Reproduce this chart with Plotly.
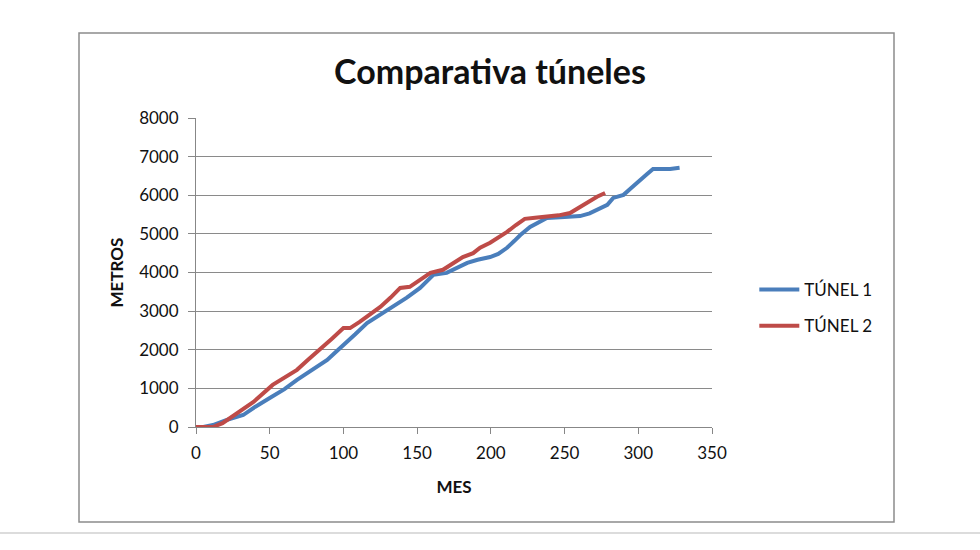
import plotly.graph_objects as go

# Túnel 1 (month, meters)
t1_mes = [0, 5, 11.5, 20, 32, 40, 50, 60, 68.5, 78, 89, 95, 102, 108, 116, 125, 134, 143, 152, 161, 170, 177, 184, 191,
          199.5, 205, 211, 216, 220, 226.6, 232, 238, 250, 260.5, 267, 272, 279, 283, 290, 295, 301, 306, 310, 316, 321.6, 328]
t1_m = [0, 0, 50, 170, 310, 520, 750, 980, 1220, 1450, 1735, 1950, 2175, 2400, 2690, 2900, 3110, 3350, 3600, 3940, 3990, 4120, 4250, 4330,
        4400, 4480, 4640, 4820, 4970, 5180, 5300, 5410, 5440, 5460, 5530, 5620, 5750, 5930, 6010, 6180, 6400, 6550, 6680, 6680, 6680, 6710]

# Túnel 2 (month, meters)
t2_mes = [0, 5, 11.5, 18, 28.5, 39, 52, 60, 68.5, 76, 84, 92, 100, 104.5, 111, 118, 125, 132, 138.5, 145, 152, 159, 167.5, 174, 181,
          188, 192.7, 199.5, 205, 211, 217, 223, 230, 238, 246, 253.7, 258, 262.5, 267, 272, 277.5]
t2_m = [0, 0, 0, 100, 360, 650, 1090, 1280, 1480, 1740, 2000, 2280, 2560, 2560, 2720, 2920, 3110, 3350, 3600, 3630, 3800, 3990, 4070, 4230, 4400,
        4500, 4640, 4770, 4900, 5050, 5230, 5390, 5420, 5440, 5480, 5540, 5640, 5750, 5850, 5960, 6060]

x_ticks = [0, 50, 100, 150, 200, 250, 300, 350]
y_ticks = [0, 1000, 2000, 3000, 4000, 5000, 6000, 7000, 8000]

FONT = "Lato, 'Open Sans', sans-serif"

fig = go.Figure()
fig.add_trace(go.Scatter(x=t1_mes, y=t1_m, mode="lines", name="TÚNEL 1", legendgroup="a",
                         line=dict(color="#4A7EBB", width=4)))
fig.add_trace(go.Scatter(x=t2_mes, y=t2_m, mode="lines", name="TÚNEL 2", legendgroup="b",
                         line=dict(color="#BE4B48", width=4)))

fig.update_layout(
    width=980, height=550,
    margin=dict(l=196, r=268, t=118, b=123),
    paper_bgcolor="white", plot_bgcolor="white",
    font=dict(family=FONT, size=17, color="#111111"),
    title=dict(text="<b>Comparativa túneles</b>", x=490/980, xanchor="center",
               y=1-72/550, yanchor="middle", font=dict(size=34, family=FONT, color="#111111")),
    showlegend=True,
    legend=dict(x=1.082, y=0.385, xanchor="left", yanchor="middle",
                font=dict(size=17, family=FONT, color="#111111"),
                tracegroupgap=11, itemwidth=40, bgcolor="rgba(0,0,0,0)"),
    xaxis=dict(range=[0, 350], tickvals=x_ticks, showgrid=False, zeroline=False,
               showline=True, linecolor="#878787", linewidth=1,
               ticks="outside", ticklen=6, tickcolor="#878787", ticklabelstandoff=5,
               tickfont=dict(size=17, family=FONT),
               title=dict(text="<b>MES</b>", font=dict(size=17, family=FONT), standoff=18)),
    yaxis=dict(range=[0, 8000], tickvals=y_ticks, showgrid=True, gridcolor="#8a8a8a", gridwidth=1,
               zeroline=False, showline=True, linecolor="#878787", linewidth=1,
               ticks="outside", ticklen=7, tickcolor="#878787", ticklabelstandoff=6,
               tickfont=dict(size=17, family=FONT),
               title=dict(text="<b>METROS</b>", font=dict(size=17, family=FONT), standoff=11)),
    shapes=[
        dict(type="rect", xref="paper", yref="paper",
             x0=(79-196)/516, x1=(894-196)/516, y0=(550-522-123)/309, y1=(550-33-123)/309,
             line=dict(color="#8c8c8c", width=1.5), fillcolor="rgba(0,0,0,0)", layer="below"),
        dict(type="line", xref="paper", yref="paper",
             x0=-196/516, x1=(980-196)/516, y0=(550-533-123)/309, y1=(550-533-123)/309,
             line=dict(color="#d0d0d0", width=1.5)),
    ],
)

fig.write_html("out.html")
